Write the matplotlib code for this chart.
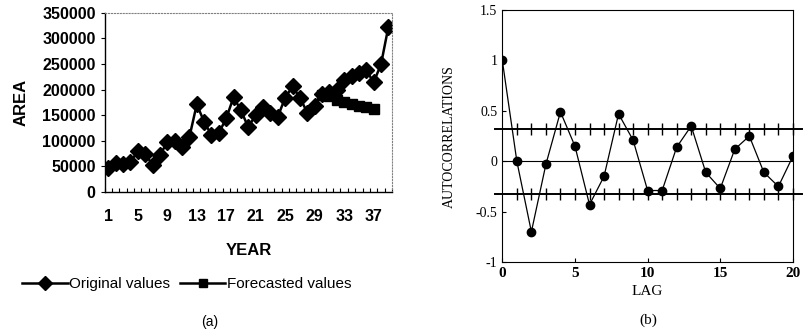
import numpy as np
import matplotlib.pyplot as plt

# panel (a): area by year
years = list(range(1, 40))
original = [47000, 57000, 54000, 59000, 79000, 74000, 53000, 72000, 97000, 100000,
            88000, 107000, 171000, 137000, 111000, 115000, 144000, 185000, 159000, 126000,
            151000, 166000, 154000, 147000, 184000, 206000, 184000, 155000, 168000, 192000,
            196000, 200000, 218000, 226000, 233000, 238000, 214000, 249000, 322000]
fc_years = [30, 31, 32, 33, 34, 35, 36, 37]
forecast = [190000, 187000, 180000, 175000, 171000, 168000, 165000, 161000]
year_labels = list(range(1, 38, 4))

# panel (b): autocorrelations
lags = list(range(0, 21))
acf = [1.0, 0.0, -0.70, -0.03, 0.49, 0.15, -0.43, -0.15, 0.47, 0.21,
       -0.29, -0.29, 0.14, 0.35, -0.11, -0.27, 0.12, 0.25, -0.11, -0.25, 0.05]
conf = 0.32

plt.rcParams['font.family'] = ['Liberation Sans', 'DejaVu Sans']
fig = plt.figure(figsize=(8.05, 3.36), dpi=100)

# ---- (a)
ax1 = fig.add_axes([0.130, 0.429, 0.357, 0.533])
ax1.plot(years, original, color='black', lw=1.8, marker='D', ms=8.5,
         label='Original values')
ax1.plot(fc_years, forecast, color='black', lw=1.8, marker='s', ms=7,
         label='Forecasted values')
ax1.set_xlim(0.5, 39.5)
ax1.set_ylim(0, 350000)
ax1.set_yticks(range(0, 350001, 50000))
ax1.set_yticklabels([str(v) for v in range(0, 350001, 50000)],
                    fontsize=11.5, fontweight='bold')
ax1.set_xticks(np.arange(0.5, 40, 1))
ax1.set_xticklabels([])
ax1.set_xticks(year_labels, minor=True)
ax1.set_xticklabels([str(y) for y in year_labels], minor=True,
                    fontsize=11.5, fontweight='bold')
ax1.tick_params(axis='x', which='major', direction='in', length=3, width=0.8)
ax1.tick_params(axis='x', which='minor', length=0, pad=12)
ax1.tick_params(axis='y', direction='out', length=3, width=0.8)
for s in ['top', 'right']:
    ax1.spines[s].set_color('0.5')
    ax1.spines[s].set_linestyle(':')
    ax1.spines[s].set_linewidth(0.8)
for s in ['left', 'bottom']:
    ax1.spines[s].set_linewidth(1.0)
ax1.set_ylabel('AREA', fontsize=12, fontweight='bold', labelpad=10)
ax1.set_xlabel('YEAR', fontsize=12, fontweight='bold', labelpad=14)
leg = fig.legend(loc='center', bbox_to_anchor=(0.232, 0.155), ncol=2,
                 frameon=False, fontsize=11, handlelength=3, columnspacing=0.6,
                 handletextpad=0.1, markerscale=0.85)
fig.text(0.26, 0.03, '(a)', ha='center', fontsize=10)

# ---- (b)
ax2 = fig.add_axes([0.624, 0.220, 0.361, 0.750])
ax2.plot(lags, acf, color='black', lw=0.9, marker='o', ms=6)
ax2.axhline(0, color='black', lw=0.8)
band_x = lags[1:]
for c in (conf, -conf):
    ax2.plot([-0.5, 20.6], [c, c], color='black', lw=1.4, clip_on=False)
    ax2.plot(band_x, [c] * len(band_x), ls='none', marker='|', ms=9,
             mew=1.0, color='black', clip_on=False)
ax2.set_xlim(0, 20)
ax2.set_ylim(-1, 1.5)
ax2.set_xticks([0, 5, 10, 15, 20])
ax2.set_xticklabels(['0', '5', '10', '15', '20'], fontsize=11,
                    fontweight='bold', family=['Liberation Serif'])
ax2.set_yticks([-1, -0.5, 0, 0.5, 1, 1.5])
ax2.set_yticklabels(['-1', '-0.5', '0', '0.5', '1', '1.5'], fontsize=10,
                    family=['Liberation Serif'])
ax2.tick_params(direction='in', length=3, width=0.8)
for s in ax2.spines.values():
    s.set_linewidth(0.8)
ax2.set_ylabel('AUTOCORRELATIONS', fontsize=10, family=['Liberation Serif'],
               labelpad=14)
ax2.set_xlabel('LAG', fontsize=11, family=['Liberation Serif'], labelpad=4)
fig.text(0.805, 0.035, '(b)', ha='center', fontsize=11,
         family=['Liberation Serif'])

fig.savefig('out.png', dpi=100)
